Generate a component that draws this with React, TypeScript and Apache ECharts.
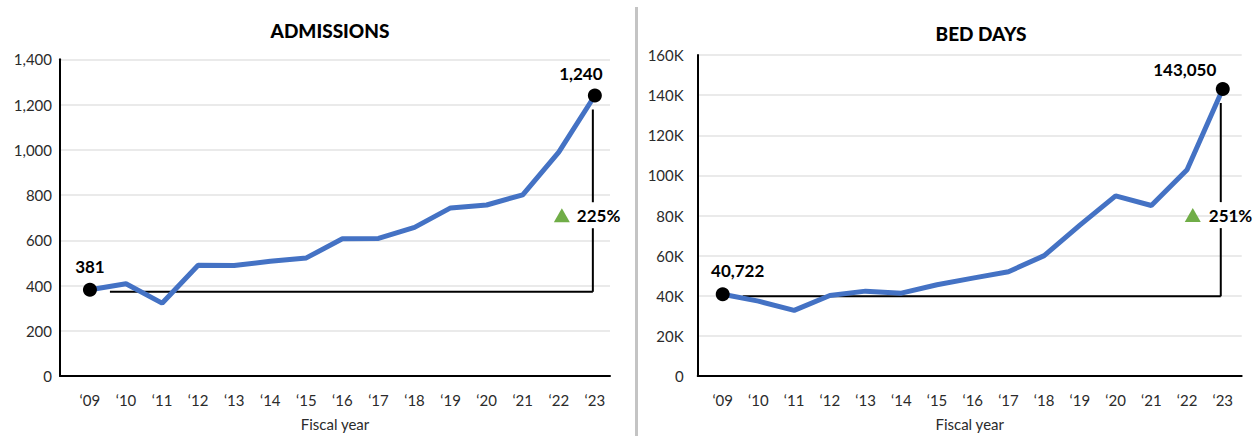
import React, { useEffect, useRef } from "react";
import * as echarts from "echarts";

const years = ["‘09", "‘10", "‘11", "‘12", "‘13", "‘14", "‘15", "‘16", "‘17", "‘18", "‘19", "‘20", "‘21", "‘22", "‘23"];
const admissions = [381, 408, 322, 490, 488, 507, 522, 607, 608, 657, 743, 756, 801, 990, 1240];
const bedDays = [40722, 37300, 32700, 40100, 42300, 41300, 45500, 48800, 52000, 60000, 75200, 89800, 85000, 102800, 143050];
const admTicks = { max: 1400, interval: 200 };
const bedTicks = { max: 160000, interval: 20000 };
const admChange = "225%";
const bedChange = "251%";

const FONT = "Lato, 'Open Sans', sans-serif";
const LINE = "#4472C4";
const GREEN = "#70AD47";

const fmtNum = (v: number) => v.toLocaleString("en-US");

export default function App() {
  const ref = useRef<HTMLDivElement>(null);
  useEffect(() => {
    if (!ref.current) return;
    const chart = echarts.init(ref.current, undefined, { renderer: "svg" });
    const idx = years.map((_, i) => i);
    const last = years.length - 1;

    const xAxisBase = (gridIndex: number, min: number, max: number) => ({
      type: "value",
      gridIndex,
      min,
      max,
      axisLine: { show: true, onZero: false, lineStyle: { color: "#000", width: 2 } },
      axisTick: { show: false },
      splitLine: { show: false },
      axisLabel: {
        customValues: idx,
        formatter: (v: number) => years[Math.round(v)] ?? "",
        color: "#2b2b2b",
        fontSize: 15,
        fontFamily: FONT,
        margin: 16,
      },
      name: "Fiscal year",
      nameLocation: "middle",
      nameGap: 40,
      nameTextStyle: { color: "#2b2b2b", fontSize: 15, fontFamily: FONT },
    });

    const yAxisBase = (gridIndex: number, t: { max: number; interval: number }, fmt: (v: number) => string, margin: number) => ({
      type: "value",
      gridIndex,
      min: 0,
      max: t.max,
      interval: t.interval,
      axisLine: { show: true, onZero: false, lineStyle: { color: "#000", width: 2 } },
      axisTick: { show: false },
      splitLine: { show: true, lineStyle: { color: "#e3e3e3", width: 1.5 } },
      axisLabel: { formatter: fmt, color: "#2b2b2b", fontSize: 15, fontFamily: FONT, margin },
    });

    const endLabel = (offset: number[]) => ({
      show: true,
      position: "top",
      distance: 6,
      offset,
      color: "#000",
      fontWeight: "bold",
      fontSize: 17,
      fontFamily: FONT,
      formatter: (p: any) => fmtNum(p.value[1]),
    });

    chart.setOption({
      animation: false,
      grid: [
        { left: 60, width: 550, top: 59.3, height: 317.4 },
        { left: 697.7, width: 544, top: 55, height: 321.7 },
      ],
      title: [
        { text: "ADMISSIONS", left: 325, top: 16, textAlign: "center", textStyle: { fontSize: 19, fontWeight: 900, color: "#000", fontFamily: FONT } },
        { text: "BED DAYS", left: 976, top: 19, textAlign: "center", textStyle: { fontSize: 19, fontWeight: 900, color: "#000", fontFamily: FONT } },
      ],
      xAxis: [xAxisBase(0, -0.83, 14.42), xAxisBase(1, -0.7, 14.53)],
      yAxis: [
        yAxisBase(0, admTicks, (v: number) => fmtNum(v), 8),
        yAxisBase(1, bedTicks, (v: number) => (v === 0 ? "0" : v / 1000 + "K"), 14),
      ],
      series: [
        {
          type: "line",
          xAxisIndex: 0,
          yAxisIndex: 0,
          data: admissions.map((v, i) => [i, v]),
          symbol: "none",
          lineStyle: { color: LINE, width: 5 },
          z: 3,
        },
        {
          type: "line",
          xAxisIndex: 1,
          yAxisIndex: 1,
          data: bedDays.map((v, i) => [i, v]),
          symbol: "none",
          lineStyle: { color: LINE, width: 5 },
          z: 3,
        },
        {
          type: "scatter",
          xAxisIndex: 0,
          yAxisIndex: 0,
          symbolSize: 14,
          itemStyle: { color: "#000", opacity: 1 },
          z: 5,
          data: [
            { value: [0, admissions[0]], label: endLabel([0, -2]) },
            { value: [last, admissions[last]], label: endLabel([-14, 0]) },
          ],
        },
        {
          type: "scatter",
          xAxisIndex: 1,
          yAxisIndex: 1,
          symbolSize: 14,
          itemStyle: { color: "#000", opacity: 1 },
          z: 5,
          data: [
            { value: [0, bedDays[0]], label: endLabel([15, -2]) },
            { value: [last, bedDays[last]], label: endLabel([-38, 2]) },
          ],
        },
      ],
    });

    const makeBracket = (gridIndex: number, data: number[], change: string, triOff: number, textOff: number) => {
      const p0 = chart.convertToPixel({ gridIndex }, [0, data[0]]) as number[];
      const p1 = chart.convertToPixel({ gridIndex }, [last, data[last]]) as number[];
      const xL = p0[0] + 20;
      const xR = p1[0] - 2;
      const yB = p0[1] + 2;
      const yTop = p1[1] + 14;
      const yLab = yB - 0.42 * (yB - yTop);
      const ls = { stroke: "#000", lineWidth: 2 };
      return [
        { type: "line", shape: { x1: xL, y1: yB, x2: xR, y2: yB }, style: ls, z: 2 },
        { type: "line", shape: { x1: xR, y1: yB, x2: xR, y2: yLab + 13 }, style: ls, z: 2 },
        { type: "line", shape: { x1: xR, y1: yLab - 13, x2: xR, y2: yTop }, style: ls, z: 2 },
        {
          type: "polygon",
          shape: { points: [[xR + triOff - 8, yLab + 7], [xR + triOff + 8, yLab + 7], [xR + triOff, yLab - 7]] },
          style: { fill: GREEN },
          z: 4,
        },
        {
          type: "text",
          x: xR + textOff,
          y: yLab,
          style: { text: change, fill: "#000", font: `bold 17px ${FONT}`, textAlign: "left", textVerticalAlign: "middle" },
          z: 4,
        },
      ];
    };

    chart.setOption({
      graphic: [
        ...makeBracket(0, admissions, admChange, -31, -16),
        ...makeBracket(1, bedDays, bedChange, -28, -12),
        { type: "rect", shape: { x: 635, y: 7, width: 3, height: 430 }, style: { fill: "#c4c4c4" } },
      ],
    });

    return () => chart.dispose();
  }, []);
  return <div ref={ref} style={{ position: "fixed", left: 0, top: 0, width: 1257, height: 436, background: "#fff" }} />;
}
